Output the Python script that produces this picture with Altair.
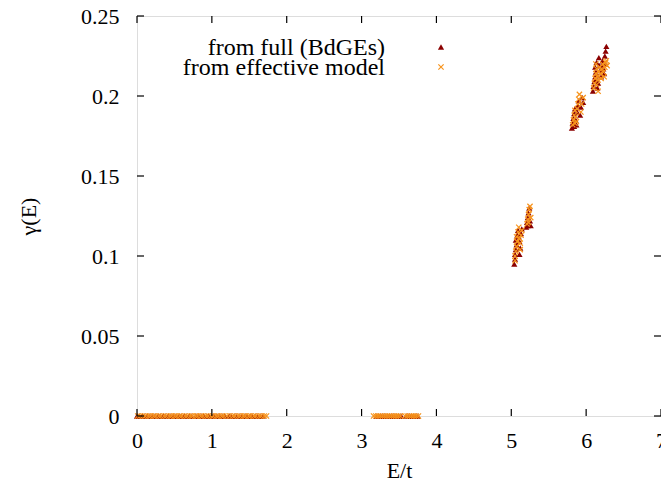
import altair as alt
import pandas as pd

# ---- data ----
full_E0 = [0.00, 0.03, 0.07, 0.10, 0.14, 0.17, 0.21, 0.24, 0.28, 0.31, 0.35, 0.38, 0.42, 0.45,
           0.49, 0.52, 0.56, 0.59, 0.63, 0.66, 0.70, 0.73, 0.79, 0.82, 0.86, 0.89, 0.93, 0.96,
           1.00, 1.03, 1.07, 1.10, 1.14, 1.17, 1.23, 1.26, 1.30, 1.33, 1.37, 1.40, 1.44, 1.47,
           1.51, 1.54, 1.58, 1.61, 1.65, 1.68,
           3.20, 3.23, 3.26, 3.29, 3.32, 3.35, 3.38, 3.41, 3.44, 3.47, 3.50, 3.53,
           3.60, 3.63, 3.66, 3.69, 3.72, 3.75]
full_E1 = [5.04, 5.05, 5.05, 5.06, 5.07, 5.06, 5.08, 5.09, 5.10, 5.11, 5.12, 5.13, 5.14, 5.11,
           5.20, 5.21, 5.22, 5.23, 5.24, 5.25, 5.26, 5.22,
           5.81, 5.82, 5.83, 5.84, 5.85, 5.86, 5.87, 5.88, 5.89, 5.90, 5.92, 5.93, 5.95, 5.96, 5.84,
           6.09, 6.10, 6.11, 6.12, 6.13, 6.12, 6.14, 6.15, 6.16, 6.17, 6.18, 6.19, 6.20, 6.21,
           6.22, 6.23, 6.24, 6.25, 6.26, 6.27, 6.26, 6.13, 6.15]
full_g1 = [0.095, 0.098, 0.101, 0.104, 0.107, 0.110, 0.113, 0.116, 0.112, 0.109, 0.105, 0.114, 0.117, 0.101,
           0.118, 0.121, 0.124, 0.127, 0.130, 0.122, 0.119, 0.119,
           0.180, 0.183, 0.186, 0.189, 0.192, 0.185, 0.182, 0.190, 0.194, 0.197, 0.188, 0.193, 0.199, 0.196, 0.181,
           0.203, 0.206, 0.209, 0.212, 0.215, 0.218, 0.221, 0.213, 0.208, 0.224, 0.219, 0.216, 0.212, 0.219,
           0.222, 0.217, 0.214, 0.225, 0.228, 0.231, 0.220, 0.210, 0.205]

eff_E0 = [0.01, 0.04, 0.08, 0.11, 0.15, 0.18, 0.22, 0.25, 0.29, 0.32, 0.36, 0.39, 0.43, 0.46,
          0.50, 0.53, 0.57, 0.60, 0.64, 0.67, 0.71, 0.74, 0.78, 0.81, 0.85, 0.88, 0.92, 0.95,
          0.99, 1.02, 1.06, 1.09, 1.13, 1.16, 1.20, 1.24, 1.28, 1.31, 1.35, 1.38, 1.42, 1.45,
          1.49, 1.52, 1.56, 1.59, 1.63, 1.66, 1.70, 1.73,
          3.16, 3.19, 3.22, 3.25, 3.28, 3.31, 3.34, 3.37, 3.40, 3.43, 3.46, 3.49, 3.52,
          3.58, 3.61, 3.64, 3.67, 3.70, 3.73, 3.76]
eff_E1 = [5.05, 5.05, 5.06, 5.07, 5.08, 5.07, 5.09, 5.10, 5.11, 5.12, 5.13, 5.14, 5.12,
          5.21, 5.22, 5.23, 5.24, 5.25, 5.26, 5.23,
          5.82, 5.83, 5.84, 5.85, 5.86, 5.87, 5.88, 5.89, 5.90, 5.91, 5.93, 5.94, 5.96, 5.85,
          6.10, 6.11, 6.12, 6.13, 6.14, 6.13, 6.15, 6.16, 6.17, 6.18, 6.19, 6.20, 6.21, 6.22,
          6.23, 6.24, 6.25, 6.26, 6.27, 6.28, 6.14, 6.16]
eff_g1 = [0.097, 0.100, 0.103, 0.106, 0.109, 0.112, 0.115, 0.118, 0.111, 0.108, 0.113, 0.116, 0.104,
          0.120, 0.123, 0.126, 0.129, 0.131, 0.124, 0.121,
          0.182, 0.185, 0.188, 0.191, 0.187, 0.184, 0.192, 0.195, 0.198, 0.201, 0.190, 0.195, 0.199, 0.183,
          0.205, 0.208, 0.211, 0.214, 0.217, 0.220, 0.212, 0.210, 0.215, 0.218, 0.214, 0.211, 0.217, 0.220,
          0.215, 0.212, 0.218, 0.221, 0.222, 0.219, 0.207, 0.203]

x_ticks = [0, 1, 2, 3, 4, 5, 6, 7]
y_ticks = [0, 0.05, 0.1, 0.15, 0.2, 0.25]
series_names = ["from full (BdGEs)", "from effective model"]

DARK = "#8b0000"
ORANGE = "#f7941d"
FONT = "'Liberation Serif', 'Times New Roman', Times, 'DejaVu Serif', serif"
W, H = 524, 400

full_df = pd.DataFrame({"E": full_E0 + full_E1, "g": [0.0] * len(full_E0) + full_g1})
eff_df = pd.DataFrame({"E": eff_E0 + eff_E1, "g": [0.0] * len(eff_E0) + eff_g1})

xs = alt.Scale(domain=[0, 7], nice=False, zero=False)
ys = alt.Scale(domain=[0, 0.25], nice=False)

xaxis = alt.Axis(values=x_ticks, title="E/t", grid=False, ticks=False, domain=False,
                 labelPadding=14, labelFont=FONT, titleFont=FONT,
                 labelFontSize=22, titleFontSize=22, titleFontWeight="normal",
                 labelColor="black", titleColor="black", labelFlush=False,
                 labelExpr="'' + datum.value",
                 titleX=W / 2, titleY=61, titleBaseline="alphabetic", titleAlign="center")
yaxis = alt.Axis(values=y_ticks, title="γ(E)", grid=False, ticks=False, domain=False,
                 labelPadding=18, labelFont=FONT, titleFont=FONT,
                 labelFontSize=22, titleFontSize=22, titleFontWeight="normal",
                 labelColor="black", titleColor="black", labelExpr="'' + datum.value",
                 labelFlush=False,
                 titleX=-109, titleY=H / 2, titleAngle=270, titleBaseline="middle",
                 titleAlign="center")

full_pts = alt.Chart(full_df).mark_point(shape="triangle-up", filled=True, size=38,
                                         color=DARK, opacity=1).encode(
    x=alt.X("E:Q", scale=xs, axis=xaxis),
    y=alt.Y("g:Q", scale=ys, axis=yaxis),
)
CROSS = "M-1,-1L1,1M-1,1L1,-1"
eff_pts = alt.Chart(eff_df).mark_point(shape=CROSS, filled=False, size=28, strokeWidth=1.2,
                                       color=ORANGE, opacity=1).encode(
    x=alt.X("E:Q", scale=xs), y=alt.Y("g:Q", scale=ys)
)

# inside ticks (gnuplot style, mirrored)
xt = pd.DataFrame({"v": x_ticks})
yt = pd.DataFrame({"v": y_ticks})
tl = 7
xb = alt.Chart(xt).mark_rule(color="black", strokeWidth=1.2).encode(
    x=alt.X("v:Q", scale=xs), y=alt.value(H), y2=alt.value(H - tl))
xtp = alt.Chart(xt).mark_rule(color="black", strokeWidth=1.2).encode(
    x=alt.X("v:Q", scale=xs), y=alt.value(0), y2=alt.value(tl))
yl = alt.Chart(yt).mark_rule(color="black", strokeWidth=1.2).encode(
    y=alt.Y("v:Q", scale=ys), x=alt.value(0), x2=alt.value(tl))
yr = alt.Chart(yt).mark_rule(color="black", strokeWidth=1.2).encode(
    y=alt.Y("v:Q", scale=ys), x=alt.value(W), x2=alt.value(W - tl))

# legend (text right-aligned, symbol on the right)
LEG_FS = 24
leg_text = alt.Chart(pd.DataFrame({"name": [series_names[0]]})).mark_text(
    align="right", baseline="middle", font=FONT, fontSize=LEG_FS, color="black").encode(
    text="name:N", x=alt.value(248), y=alt.value(32))
leg_text2 = alt.Chart(pd.DataFrame({"name": [series_names[1]]})).mark_text(
    align="right", baseline="middle", font=FONT, fontSize=LEG_FS, color="black").encode(
    text="name:N", x=alt.value(248), y=alt.value(52))
leg_sym1 = alt.Chart(pd.DataFrame({"name": [series_names[0]]})).mark_point(
    shape="triangle-up", filled=True, size=38, color=DARK, opacity=1).encode(
    x=alt.value(304), y=alt.value(31))
leg_sym2 = alt.Chart(pd.DataFrame({"name": [series_names[1]]})).mark_point(
    shape=CROSS, filled=False, size=28, strokeWidth=1.2, color=ORANGE, opacity=1).encode(
    x=alt.value(304), y=alt.value(51))

chart = alt.layer(full_pts, eff_pts, xb, xtp, yl, yr,
                  leg_text, leg_text2, leg_sym1, leg_sym2).properties(
    width=W, height=H,
    autosize=alt.AutoSizeParams(type="none"),
    padding={"left": 129, "top": 8, "right": 0, "bottom": 65},
).configure_view(stroke="black", strokeWidth=1.5).configure(background="white")

chart.save("out.html", embed_options={"renderer": "svg", "actions": False})
